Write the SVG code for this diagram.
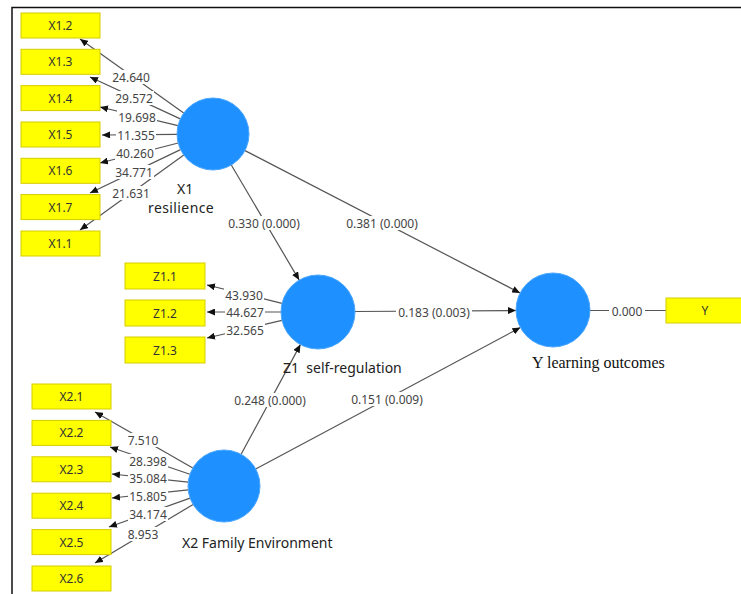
<svg xmlns="http://www.w3.org/2000/svg" width="741" height="594" viewBox="0 0 741 594">
<defs>
<marker id="arr" viewBox="0 0 8 7" refX="8" refY="3.5" markerWidth="8" markerHeight="7" markerUnits="userSpaceOnUse" orient="auto">
<path d="M0,0 L8,3.5 L0,7 z" fill="#111"/>
</marker>
<style>
.box{fill:#ffff00;stroke:#d6cc00;stroke-width:1}
.bt{font-family:"Noto Sans","Liberation Sans",sans-serif;font-size:12px;fill:#333;text-anchor:middle;dominant-baseline:central}
.lv{fill:#1e90ff;stroke:#4aa6ff;stroke-width:1}
.ln{stroke:#555;stroke-width:1.2;fill:none;marker-end:url(#arr)}
.pl{stroke:#555;stroke-width:1.2;fill:none}
.bg{fill:#fff}
.lb{font-family:"Noto Sans","Liberation Sans",sans-serif;font-size:12px;fill:#444;text-anchor:middle;dominant-baseline:central}
.nl{font-family:"Noto Sans","Liberation Sans",sans-serif;font-size:14px;fill:#222;dominant-baseline:central}
.sl{font-family:"Liberation Serif","Times New Roman",serif;font-size:16px;fill:#111;dominant-baseline:central}
</style>
</defs>
<rect x="0" y="0" width="741" height="594" fill="#fff"/>
<path d="M12,594 V7.5 H741" fill="none" stroke="#111" stroke-width="1.5"/>

<g id="connectors">
<line class="ln" x1="183.7" y1="113.1" x2="80" y2="39"/>
<line class="ln" x1="180.3" y1="118.9" x2="90" y2="77"/>
<line class="ln" x1="178" y1="125.6" x2="100" y2="107"/>
<line class="ln" x1="177" y1="134.3" x2="102" y2="135"/>
<line class="ln" x1="178.2" y1="143" x2="100" y2="163"/>
<line class="ln" x1="180.5" y1="149.6" x2="90" y2="193"/>
<line class="ln" x1="183.8" y1="155.1" x2="80" y2="230"/>
<line class="ln" x1="282" y1="303.3" x2="207" y2="285"/>
<line class="ln" x1="281" y1="312" x2="207" y2="312"/>
<line class="ln" x1="282" y1="320.4" x2="207" y2="338"/>
<line class="ln" x1="192.8" y1="468.1" x2="95" y2="412"/>
<line class="ln" x1="189.9" y1="474.3" x2="110" y2="447"/>
<line class="ln" x1="188.2" y1="482.2" x2="112" y2="474"/>
<line class="ln" x1="188.2" y1="489.8" x2="112" y2="498"/>
<line class="ln" x1="190.1" y1="498.1" x2="109" y2="527"/>
<line class="ln" x1="193.1" y1="504.5" x2="95" y2="563"/>
<line class="ln" x1="231.3" y1="165" x2="299.2" y2="280.1"/>
<line class="ln" x1="245" y1="150.6" x2="520.1" y2="293"/>
<line class="ln" x1="355" y1="311.5" x2="516" y2="310.5"/>
<line class="ln" x1="241.1" y1="454.3" x2="300.4" y2="344.6"/>
<line class="ln" x1="255.7" y1="469" x2="520.4" y2="327.5"/>
<line class="pl" x1="590" y1="310.5" x2="666" y2="310.5"/>

<rect class="bg" x="111" y="70" width="40" height="14"/>
<rect class="bg" x="114" y="91" width="40" height="14"/>
<rect class="bg" x="117" y="110" width="40" height="14"/>
<rect class="bg" x="116" y="128" width="40" height="14"/>
<rect class="bg" x="115" y="146" width="40" height="14"/>
<rect class="bg" x="114" y="165" width="40" height="14"/>
<rect class="bg" x="111" y="186" width="40" height="14"/>
<rect class="bg" x="224" y="288" width="40" height="14"/>
<rect class="bg" x="225" y="305" width="40" height="14"/>
<rect class="bg" x="225" y="323" width="40" height="14"/>
<rect class="bg" x="126" y="433" width="34" height="14"/>
<rect class="bg" x="128" y="454" width="40" height="14"/>
<rect class="bg" x="128" y="471" width="40" height="14"/>
<rect class="bg" x="128" y="489" width="40" height="14"/>
<rect class="bg" x="128" y="507" width="40" height="14"/>
<rect class="bg" x="126" y="527" width="34" height="14"/>
<rect class="bg" x="226" y="216" width="76" height="14"/>
<rect class="bg" x="344" y="216" width="76" height="14"/>
<rect class="bg" x="396" y="305" width="76" height="14"/>
<rect class="bg" x="232" y="393" width="76" height="14"/>
<rect class="bg" x="349" y="392" width="76" height="14"/>
<rect class="bg" x="609" y="304" width="36" height="14"/>

<text class="lb" x="131" y="77">24.640</text>
<text class="lb" x="134" y="98">29.572</text>
<text class="lb" x="137" y="117">19.698</text>
<text class="lb" x="136" y="135">11.355</text>
<text class="lb" x="135" y="153">40.260</text>
<text class="lb" x="134" y="172">34.771</text>
<text class="lb" x="131" y="193">21.631</text>
<text class="lb" x="244" y="295">43.930</text>
<text class="lb" x="245" y="312">44.627</text>
<text class="lb" x="245" y="330">32.565</text>
<text class="lb" x="143" y="440">7.510</text>
<text class="lb" x="148" y="461">28.398</text>
<text class="lb" x="148" y="478">35.084</text>
<text class="lb" x="148" y="496">15.805</text>
<text class="lb" x="148" y="514">34.174</text>
<text class="lb" x="143" y="534">8.953</text>
<text class="lb" x="264" y="223">0.330 (0.000)</text>
<text class="lb" x="382" y="223">0.381 (0.000)</text>
<text class="lb" x="434" y="312">0.183 (0.003)</text>
<text class="lb" x="270" y="400">0.248 (0.000)</text>
<text class="lb" x="387" y="399">0.151 (0.009)</text>
<text class="lb" x="627" y="311">0.000</text>
</g>

<g id="X1">
<circle class="lv" cx="213" cy="134" r="36"/>
<text class="nl" x="177" y="188">X1</text>
<text class="nl" x="148" y="207" letter-spacing="0.4">resilience</text>
</g>
<g id="Z1">
<circle class="lv" cx="318" cy="312" r="37"/>
<text class="nl" x="283" y="367" xml:space="preserve">Z1  self-regulation</text>
</g>
<g id="X2">
<circle class="lv" cx="224" cy="486" r="36"/>
<text class="nl" x="182" y="542" font-size="13.5">X2 Family Environment</text>
</g>
<g id="Y">
<circle class="lv" cx="553" cy="310" r="37"/>
<text class="sl" x="532" y="362">Y learning outcomes</text>
</g>

<g id="X1.2"><rect class="box" x="21" y="13" width="79" height="25"/><text class="bt" x="60.5" y="25.5">X1.2</text></g>
<g id="X1.3"><rect class="box" x="21" y="49.3" width="79" height="25"/><text class="bt" x="60.5" y="61.8">X1.3</text></g>
<g id="X1.4"><rect class="box" x="21" y="85.6" width="79" height="25"/><text class="bt" x="60.5" y="98.1">X1.4</text></g>
<g id="X1.5"><rect class="box" x="21" y="122" width="79" height="25"/><text class="bt" x="60.5" y="134.5">X1.5</text></g>
<g id="X1.6"><rect class="box" x="21" y="158.3" width="79" height="25"/><text class="bt" x="60.5" y="170.8">X1.6</text></g>
<g id="X1.7"><rect class="box" x="21" y="194.6" width="79" height="25"/><text class="bt" x="60.5" y="207.1">X1.7</text></g>
<g id="X1.1"><rect class="box" x="21" y="231" width="79" height="25"/><text class="bt" x="60.5" y="243.5">X1.1</text></g>

<g id="Z1.1"><rect class="box" x="125" y="263" width="80" height="26"/><text class="bt" x="165" y="276">Z1.1</text></g>
<g id="Z1.2"><rect class="box" x="125" y="300" width="80" height="26"/><text class="bt" x="165" y="313">Z1.2</text></g>
<g id="Z1.3"><rect class="box" x="125" y="337" width="80" height="26"/><text class="bt" x="165" y="350">Z1.3</text></g>

<g id="X2.1"><rect class="box" x="32" y="384" width="79" height="25"/><text class="bt" x="71.5" y="396.5">X2.1</text></g>
<g id="X2.2"><rect class="box" x="32" y="420.4" width="79" height="25"/><text class="bt" x="71.5" y="432.9">X2.2</text></g>
<g id="X2.3"><rect class="box" x="32" y="456.8" width="79" height="25"/><text class="bt" x="71.5" y="469.3">X2.3</text></g>
<g id="X2.4"><rect class="box" x="32" y="493.2" width="79" height="25"/><text class="bt" x="71.5" y="505.7">X2.4</text></g>
<g id="X2.5"><rect class="box" x="32" y="529.6" width="79" height="25"/><text class="bt" x="71.5" y="542.1">X2.5</text></g>
<g id="X2.6"><rect class="box" x="32" y="566" width="79" height="25"/><text class="bt" x="71.5" y="578.5">X2.6</text></g>

<g id="Ybox"><rect class="box" x="666" y="298" width="80" height="25"/><text class="bt" x="705" y="310.5">Y</text></g>
</svg>
